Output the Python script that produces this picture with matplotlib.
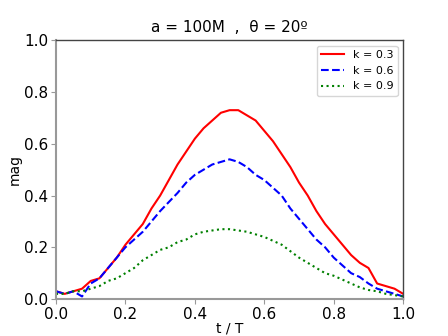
import numpy as np
import matplotlib
matplotlib.use("Agg")
import matplotlib.pyplot as plt

t = np.linspace(0, 1, 41)

mag_k03 = [0.03, 0.02, 0.03, 0.04, 0.07, 0.08, 0.12, 0.16, 0.21, 0.25,
           0.29, 0.35, 0.40, 0.46, 0.52, 0.57, 0.62, 0.66, 0.69, 0.72,
           0.73, 0.73, 0.71, 0.69, 0.65, 0.61, 0.56, 0.51, 0.45, 0.40,
           0.34, 0.29, 0.25, 0.21, 0.17, 0.14, 0.12, 0.06, 0.05, 0.04, 0.02]
mag_k06 = [0.03, 0.02, 0.03, 0.01, 0.06, 0.08, 0.12, 0.16, 0.20, 0.23,
           0.26, 0.30, 0.34, 0.375, 0.41, 0.45, 0.48, 0.50, 0.52, 0.53,
           0.54, 0.53, 0.51, 0.48, 0.46, 0.43, 0.40, 0.35, 0.31, 0.27,
           0.23, 0.20, 0.16, 0.13, 0.10, 0.085, 0.06, 0.04, 0.03, 0.02, 0.01]
mag_k09 = [0.02, 0.02, 0.03, 0.03, 0.04, 0.05, 0.07, 0.08, 0.10, 0.12,
           0.15, 0.17, 0.19, 0.20, 0.22, 0.23, 0.25, 0.26, 0.265, 0.27,
           0.27, 0.265, 0.26, 0.25, 0.24, 0.225, 0.21, 0.185, 0.16, 0.14,
           0.12, 0.10, 0.09, 0.075, 0.06, 0.045, 0.035, 0.03, 0.02, 0.015, 0.01]

fig, ax = plt.subplots(figsize=(4.48, 3.36), dpi=100)
fig.subplots_adjust(left=0.125, right=0.9, top=0.88, bottom=0.11)

ax.plot(t, mag_k03, color="red", linestyle="-", linewidth=1.5, label="k = 0.3")
ax.plot(t, mag_k06, color="blue", linestyle="--", linewidth=1.5, label="k = 0.6")
ax.plot(t, mag_k09, color="green", linestyle=":", linewidth=1.5, label="k = 0.9")

ax.set_xlim(0, 1)
ax.set_ylim(0, 1)
ax.set_xticks([0, 0.2, 0.4, 0.6, 0.8, 1.0])
ax.set_yticks([0, 0.2, 0.4, 0.6, 0.8, 1.0])
ax.tick_params(labelsize=11, color="#999999", pad=2)

for s in ["left", "bottom"]:
    ax.spines[s].set_color("#999999")
    ax.spines[s].set_linewidth(1.5)
for s in ["top", "right"]:
    ax.spines[s].set_color("#444444")
    ax.spines[s].set_linewidth(1.0)

ax.set_title("a = 100M  ,  θ = 20º", fontsize=11)
ax.set_xlabel("t / T", fontsize=10, labelpad=0)
ax.set_ylabel("mag", fontsize=10, labelpad=2)
ax.legend(loc="upper right", fontsize=8)

fig.savefig("out.png", dpi=100)
